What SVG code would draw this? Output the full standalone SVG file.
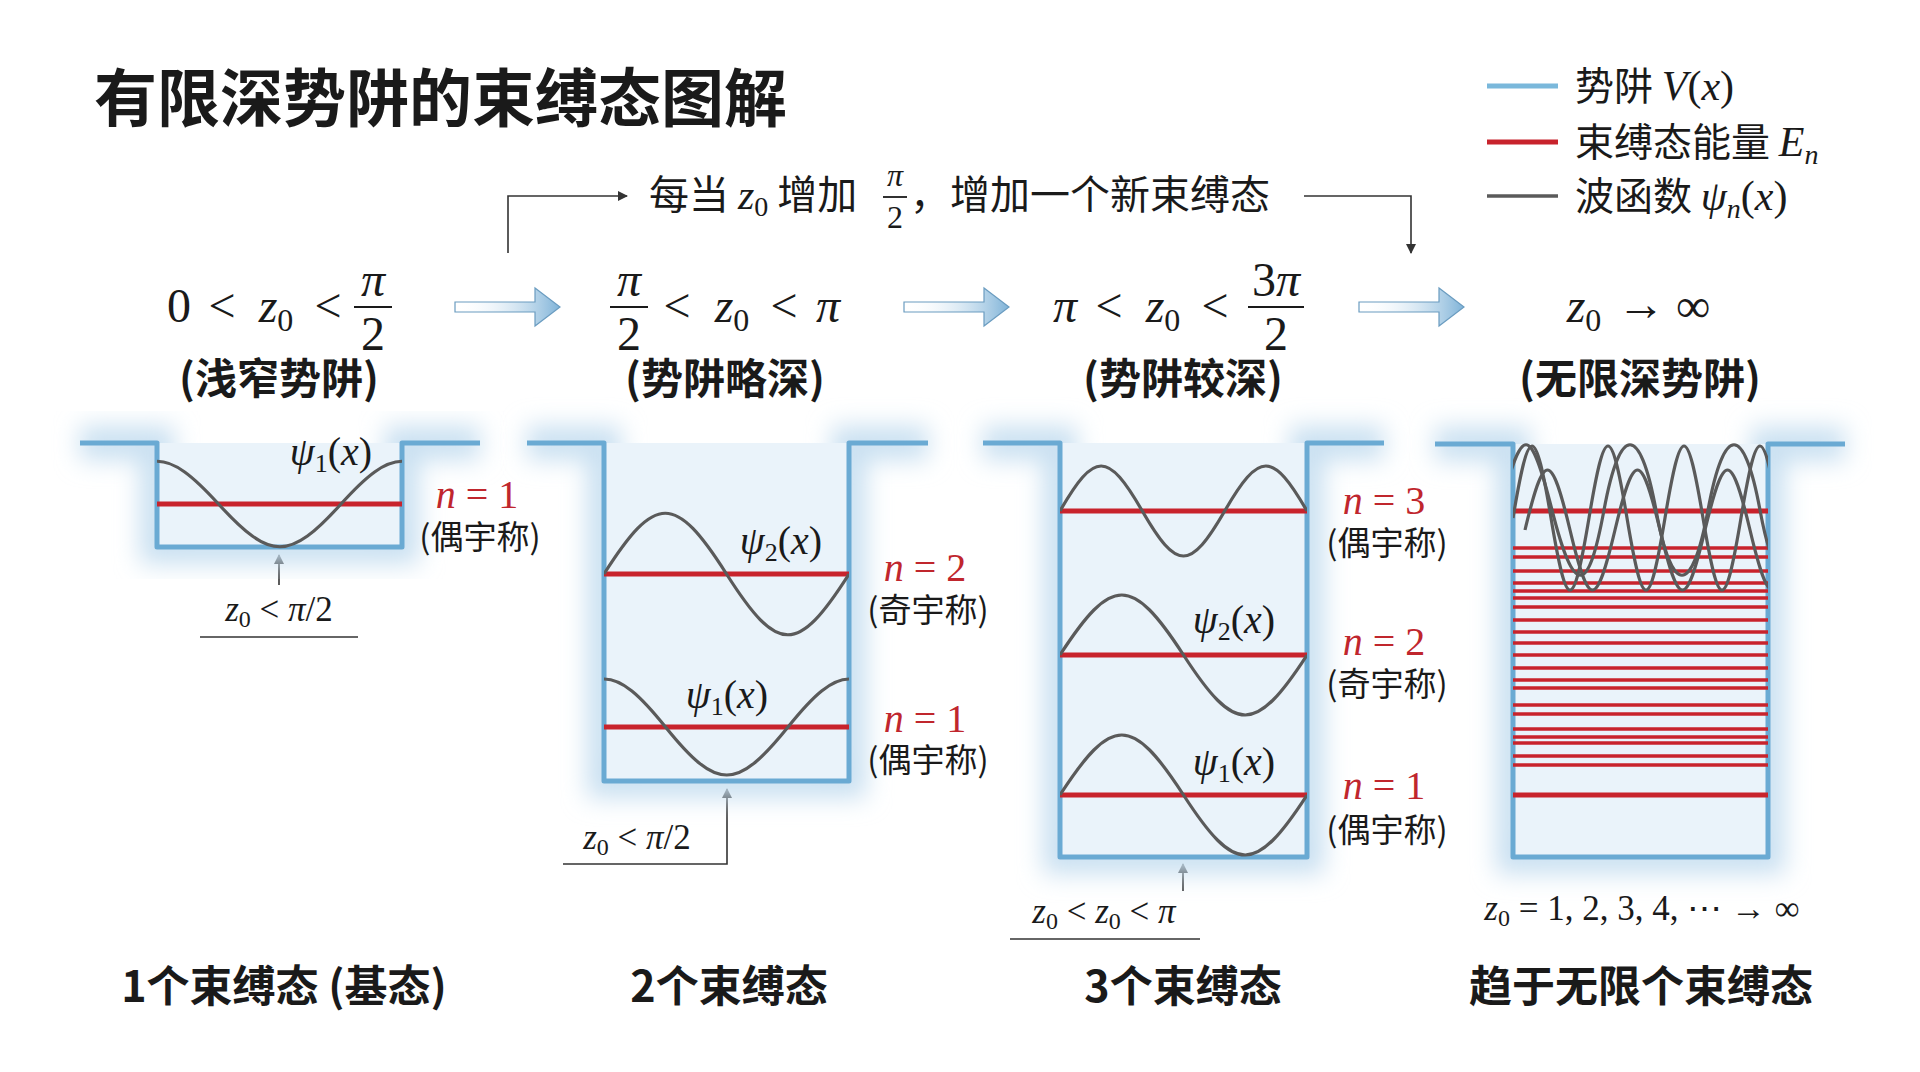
<svg xmlns="http://www.w3.org/2000/svg" width="1920" height="1072" viewBox="0 0 1920 1072">
<defs>
<style>
.cjk{font-family:"Noto Sans CJK SC","Noto Sans",sans-serif;fill:#1a1a1a}
.b{font-weight:700}
.m{font-family:"Liberation Serif","DejaVu Serif",serif;fill:#1a1a1a}
.i{font-style:italic}
.red{fill:#c0262d}
.h{font-size:48px;text-anchor:middle}
.well{fill:none;stroke:#6aaad3;stroke-width:5;stroke-linejoin:round}
.glow{fill:none;stroke:#c9e0f1;stroke-width:34;filter:url(#bl)}
.inner{fill:#eaf3fa}
.lvl{stroke:#c8232c;stroke-width:5}
.lv2{stroke:#c8232c;stroke-width:3.5}
.psi{fill:none;stroke:#5a5a5a;stroke-width:3.2}
.ln{fill:none;stroke:#333;stroke-width:1.6}
</style>
<filter id="bl" x="-30%" y="-30%" width="160%" height="160%"><feGaussianBlur stdDeviation="12"/></filter>
<marker id="ah" markerWidth="10" markerHeight="10" refX="9" refY="5" orient="auto" markerUnits="userSpaceOnUse"><path d="M0,0 L10,5 L0,10 z" fill="#333"/></marker>
<linearGradient id="ba" x1="0" x2="1"><stop offset="0" stop-color="#ffffff" stop-opacity="0"/><stop offset="1" stop-color="#7fb3d8"/></linearGradient>
<clipPath id="c1"><rect x="157" y="430" width="245" height="120"/></clipPath>
<clipPath id="c2"><rect x="604" y="430" width="245" height="355"/></clipPath>
<clipPath id="c3"><rect x="1060" y="430" width="247" height="430"/></clipPath>
<clipPath id="c4"><rect x="1513" y="440" width="255" height="420"/></clipPath>
</defs>
<rect width="1920" height="1072" fill="#fff"/>

<text class="cjk b" x="94" y="121" font-size="63">有限深势阱的束缚态图解</text>

<g id="legend">
<line x1="1487" y1="86" x2="1558" y2="86" stroke="#c9e0f1" stroke-width="16" filter="url(#bl)"/>
<line x1="1487" y1="86" x2="1558" y2="86" stroke="#7ab8db" stroke-width="5"/>
<line x1="1487" y1="142" x2="1558" y2="142" stroke="#c8232c" stroke-width="5"/>
<line x1="1487" y1="196" x2="1558" y2="196" stroke="#5a5a5a" stroke-width="3.5"/>
<text class="cjk" x="1575" y="100" font-size="39">势阱 <tspan class="m i" font-size="42">V</tspan><tspan class="m" font-size="42">(</tspan><tspan class="m i" font-size="42">x</tspan><tspan class="m" font-size="42">)</tspan></text>
<text class="cjk" x="1575" y="156" font-size="39">束缚态能量 <tspan class="m i" font-size="42">E</tspan><tspan class="m i" font-size="28" dy="8">n</tspan></text>
<text class="cjk" x="1575" y="210" font-size="39">波函数 <tspan class="m i" font-size="42">ψ</tspan><tspan class="m i" font-size="28" dy="8">n</tspan><tspan class="m" font-size="42" dy="-8">(</tspan><tspan class="m i" font-size="42">x</tspan><tspan class="m" font-size="42">)</tspan></text>
</g>

<g id="connectors">
<path class="ln" d="M508 253 V196 H627" marker-end="url(#ah)"/>
<path class="ln" d="M1304 196 H1411 V253" marker-end="url(#ah)"/>
<polygon points="455,302 535,302 535,288 560,307 535,326 535,312 455,312" fill="url(#ba)" stroke="#6a9cc0" stroke-width="1.2"/>
<polygon points="904,302 984,302 984,288 1009,307 984,326 984,312 904,312" fill="url(#ba)" stroke="#6a9cc0" stroke-width="1.2"/>
<polygon points="1359,302 1439,302 1439,288 1464,307 1439,326 1439,312 1359,312" fill="url(#ba)" stroke="#6a9cc0" stroke-width="1.2"/>
<path class="ln" d="M279 585 V555" marker-end="url(#ah)"/>
<line class="ln" x1="200" y1="637" x2="358" y2="637"/>
<path class="ln" d="M563 864 H727 V789" marker-end="url(#ah)"/>
<path class="ln" d="M1183 891 V864" marker-end="url(#ah)"/>
<line class="ln" x1="1010" y1="939" x2="1200" y2="939"/>
</g>

<g id="note">
<text class="cjk" x="649" y="209" font-size="40">每当 <tspan class="m i" font-size="42">z</tspan><tspan class="m" font-size="28" dy="7">0</tspan><tspan dy="-7"> 增加</tspan></text>
<text class="m i" x="895" y="186" font-size="32" text-anchor="middle">π</text>
<line x1="883" y1="197" x2="907" y2="197" stroke="#1a1a1a" stroke-width="1.8"/>
<text class="m" x="895" y="228" font-size="32" text-anchor="middle">2</text>
<text class="cjk" x="910" y="209" font-size="40">，增加一个新束缚态</text>
</g>

<g id="head1">
<text class="m h" x="179" y="322">0</text>
<text class="m h" x="222" y="322">&lt;</text>
<text class="m h" x="276" y="322"><tspan class="i">z</tspan><tspan font-size="32" dy="9">0</tspan></text>
<text class="m h" x="328" y="322">&lt;</text>
<text class="m i h" x="373" y="296">π</text>
<line x1="354" y1="307" x2="392" y2="307" stroke="#1a1a1a" stroke-width="2.2"/>
<text class="m h" x="373" y="350">2</text>
<text class="cjk b" x="279" y="394" font-size="42" text-anchor="middle">(浅窄势阱)</text>
</g>
<g id="head2">
<text class="m i h" x="629" y="296">π</text>
<line x1="610" y1="307" x2="648" y2="307" stroke="#1a1a1a" stroke-width="2.2"/>
<text class="m h" x="629" y="350">2</text>
<text class="m h" x="677" y="322">&lt;</text>
<text class="m h" x="732" y="322"><tspan class="i">z</tspan><tspan font-size="32" dy="9">0</tspan></text>
<text class="m h" x="784" y="322">&lt;</text>
<text class="m i h" x="828" y="322">π</text>
<text class="cjk b" x="725" y="394" font-size="42" text-anchor="middle">(势阱略深)</text>
</g>
<g id="head3">
<text class="m i h" x="1065" y="322">π</text>
<text class="m h" x="1109" y="322">&lt;</text>
<text class="m h" x="1163" y="322"><tspan class="i">z</tspan><tspan font-size="32" dy="9">0</tspan></text>
<text class="m h" x="1215" y="322">&lt;</text>
<text class="m h" x="1276" y="296">3<tspan class="i">π</tspan></text>
<line x1="1248" y1="307" x2="1304" y2="307" stroke="#1a1a1a" stroke-width="2.2"/>
<text class="m h" x="1276" y="350">2</text>
<text class="cjk b" x="1183" y="394" font-size="42" text-anchor="middle">(势阱较深)</text>
</g>
<g id="head4">
<text class="m h" x="1584" y="322"><tspan class="i">z</tspan><tspan font-size="32" dy="9">0</tspan></text>
<text class="m h" x="1641" y="320">→</text>
<text class="m h" x="1693" y="322">∞</text>
<text class="cjk b" x="1640" y="394" font-size="42" text-anchor="middle">(无限深势阱)</text>
</g>

<g id="well1">
<path class="glow" d="M80 443 H157 V547 H402 V443 H480"/>
<rect class="inner" x="157" y="443" width="245" height="104"/>
<path class="well" d="M80 443 H157 V547 H402 V443 H480"/>
<line class="lvl" x1="157" y1="504" x2="402" y2="504"/>
<path class="psi" clip-path="url(#c1)" d="M96 504 C147.5 447 166.5 447 218.5 504 S289.5 561 341 504 S412 447 463.5 504"/>
<text class="m" x="331" y="465" font-size="40" text-anchor="middle"><tspan class="i">ψ</tspan><tspan font-size="26" dy="7">1</tspan><tspan dy="-7">(</tspan><tspan class="i">x</tspan>)</text>
<text class="m red" x="477" y="508" font-size="40" text-anchor="middle"><tspan class="i">n</tspan> = 1</text>
<text class="cjk" x="480" y="549" font-size="33" text-anchor="middle">(偶宇称)</text>
<text class="m" x="279" y="621" font-size="35" text-anchor="middle"><tspan class="i">z</tspan><tspan font-size="24" dy="6">0</tspan><tspan dy="-6"> &lt; </tspan><tspan class="i">π</tspan>/2</text>
</g>

<g id="well2">
<path class="glow" d="M527 443 H604 V781 H849 V443 H928"/>
<rect class="inner" x="604" y="443" width="245" height="338"/>
<path class="well" d="M527 443 H604 V781 H849 V443 H928"/>
<line class="lvl" x1="604" y1="574" x2="849" y2="574"/>
<line class="lvl" x1="604" y1="727" x2="849" y2="727"/>
<path class="psi" clip-path="url(#c2)" d="M604 574 C655.5 493 675 493 726.5 574 S797.5 655 849 574"/>
<path class="psi" clip-path="url(#c2)" d="M543 727 C594.5 663 614 663 665.5 727 S736.5 791 788 727 S859 663 910.5 727"/>
<text class="m" x="781" y="554" font-size="40" text-anchor="middle"><tspan class="i">ψ</tspan><tspan font-size="26" dy="7">2</tspan><tspan dy="-7">(</tspan><tspan class="i">x</tspan>)</text>
<text class="m" x="727" y="708" font-size="40" text-anchor="middle"><tspan class="i">ψ</tspan><tspan font-size="26" dy="7">1</tspan><tspan dy="-7">(</tspan><tspan class="i">x</tspan>)</text>
<text class="m red" x="925" y="581" font-size="40" text-anchor="middle"><tspan class="i">n</tspan> = 2</text>
<text class="cjk" x="928" y="622" font-size="33" text-anchor="middle">(奇宇称)</text>
<text class="m red" x="925" y="732" font-size="40" text-anchor="middle"><tspan class="i">n</tspan> = 1</text>
<text class="cjk" x="928" y="772" font-size="33" text-anchor="middle">(偶宇称)</text>
<text class="m" x="637" y="849" font-size="35" text-anchor="middle"><tspan class="i">z</tspan><tspan font-size="24" dy="6">0</tspan><tspan dy="-6"> &lt; </tspan><tspan class="i">π</tspan>/2</text>
</g>

<g id="well3">
<path class="glow" d="M983 443 H1060 V857 H1307 V443 H1384"/>
<rect class="inner" x="1060" y="443" width="247" height="414"/>
<path class="well" d="M983 443 H1060 V857 H1307 V443 H1384"/>
<line class="lvl" x1="1060" y1="511" x2="1307" y2="511"/>
<line class="lvl" x1="1060" y1="655" x2="1307" y2="655"/>
<line class="lvl" x1="1060" y1="795" x2="1307" y2="795"/>
<path class="psi" clip-path="url(#c3)" d="M1060 511 C1094.6 451 1107.7 451 1142.3 511 S1190 571 1224.7 511 S1272.3 451 1307 511"/>
<path class="psi" clip-path="url(#c3)" d="M1060 655 C1111.9 575 1131.6 575 1183.5 655 S1255 735 1307 655"/>
<path class="psi" clip-path="url(#c3)" d="M1060 795 C1111.9 715 1131.6 715 1183.5 795 S1255 875 1307 795"/>
<text class="m" x="1234" y="633" font-size="40" text-anchor="middle"><tspan class="i">ψ</tspan><tspan font-size="26" dy="7">2</tspan><tspan dy="-7">(</tspan><tspan class="i">x</tspan>)</text>
<text class="m" x="1234" y="775" font-size="40" text-anchor="middle"><tspan class="i">ψ</tspan><tspan font-size="26" dy="7">1</tspan><tspan dy="-7">(</tspan><tspan class="i">x</tspan>)</text>
<text class="m red" x="1384" y="514" font-size="40" text-anchor="middle"><tspan class="i">n</tspan> = 3</text>
<text class="cjk" x="1387" y="555" font-size="33" text-anchor="middle">(偶宇称)</text>
<text class="m red" x="1384" y="655" font-size="40" text-anchor="middle"><tspan class="i">n</tspan> = 2</text>
<text class="cjk" x="1387" y="696" font-size="33" text-anchor="middle">(奇宇称)</text>
<text class="m red" x="1384" y="799" font-size="40" text-anchor="middle"><tspan class="i">n</tspan> = 1</text>
<text class="cjk" x="1387" y="842" font-size="33" text-anchor="middle">(偶宇称)</text>
<text class="m" x="1104" y="923" font-size="35" text-anchor="middle"><tspan class="i">z</tspan><tspan font-size="24" dy="6">0</tspan><tspan dy="-6"> &lt; </tspan><tspan class="i">z</tspan><tspan font-size="24" dy="6">0</tspan><tspan dy="-6"> &lt; </tspan><tspan class="i">π</tspan></text>
</g>

<g id="well4">
<path class="glow" d="M1435 444 H1513 V857 H1768 V444 H1845"/>
<rect class="inner" x="1513" y="444" width="255" height="413"/>
<path class="well" d="M1435 444 H1513 V857 H1768 V444 H1845"/>
<g class="lvl">
<line x1="1513" y1="511" x2="1768" y2="511"/>
<line x1="1513" y1="795" x2="1768" y2="795"/>
</g>
<g class="lv2">
<line x1="1513" y1="548" x2="1768" y2="548"/><line x1="1513" y1="557" x2="1768" y2="557"/>
<line x1="1513" y1="571" x2="1768" y2="571"/><line x1="1513" y1="583" x2="1768" y2="583"/>
<line x1="1513" y1="591" x2="1768" y2="591"/><line x1="1513" y1="598" x2="1768" y2="598"/>
<line x1="1513" y1="607" x2="1768" y2="607"/><line x1="1513" y1="620" x2="1768" y2="620"/>
<line x1="1513" y1="632" x2="1768" y2="632"/><line x1="1513" y1="643" x2="1768" y2="643"/>
<line x1="1513" y1="655" x2="1768" y2="655"/><line x1="1513" y1="668" x2="1768" y2="668"/>
<line x1="1513" y1="680" x2="1768" y2="680"/><line x1="1513" y1="688" x2="1768" y2="688"/>
<line x1="1513" y1="705" x2="1768" y2="705"/><line x1="1513" y1="714" x2="1768" y2="714"/>
<line x1="1513" y1="729" x2="1768" y2="729"/><line x1="1513" y1="737" x2="1768" y2="737"/>
<line x1="1513" y1="743" x2="1768" y2="743"/><line x1="1513" y1="756" x2="1768" y2="756"/>
<line x1="1513" y1="765" x2="1768" y2="765"/>
</g>
<g clip-path="url(#c4)">
<path class="psi" d="M1513 518 C1529 422 1535 422 1551 518 S1573 614 1589 518 S1611 422 1627 518 S1649 614 1665 518 S1687 422 1703 518 S1725 614 1741 518 S1763 422 1779 518"/>
<path class="psi" d="M1500 510 C1522 423 1530 423 1552 510 S1588 597 1604 510 S1640 423 1656 510 S1692 597 1708 510 S1744 423 1760 510 S1796 597 1812 510"/>
<path class="psi" d="M1525 530 C1544 450 1551 450 1570 530 S1596 610 1615 530 S1641 450 1660 530 S1686 610 1705 530 S1731 450 1750 530 S1776 610 1795 530"/>
</g>
<text class="m" x="1642" y="920" font-size="35" text-anchor="middle"><tspan class="i">z</tspan><tspan font-size="24" dy="6">0</tspan><tspan dy="-6"> = 1, 2, 3, 4, ⋯ → ∞</tspan></text>
</g>

<g id="captions">
<text class="cjk b" x="284" y="1002" font-size="43" text-anchor="middle">1个束缚态 (基态)</text>
<text class="cjk b" x="729" y="1002" font-size="43" text-anchor="middle">2个束缚态</text>
<text class="cjk b" x="1183" y="1002" font-size="43" text-anchor="middle">3个束缚态</text>
<text class="cjk b" x="1641" y="1002" font-size="43" text-anchor="middle">趋于无限个束缚态</text>
</g>
</svg>
